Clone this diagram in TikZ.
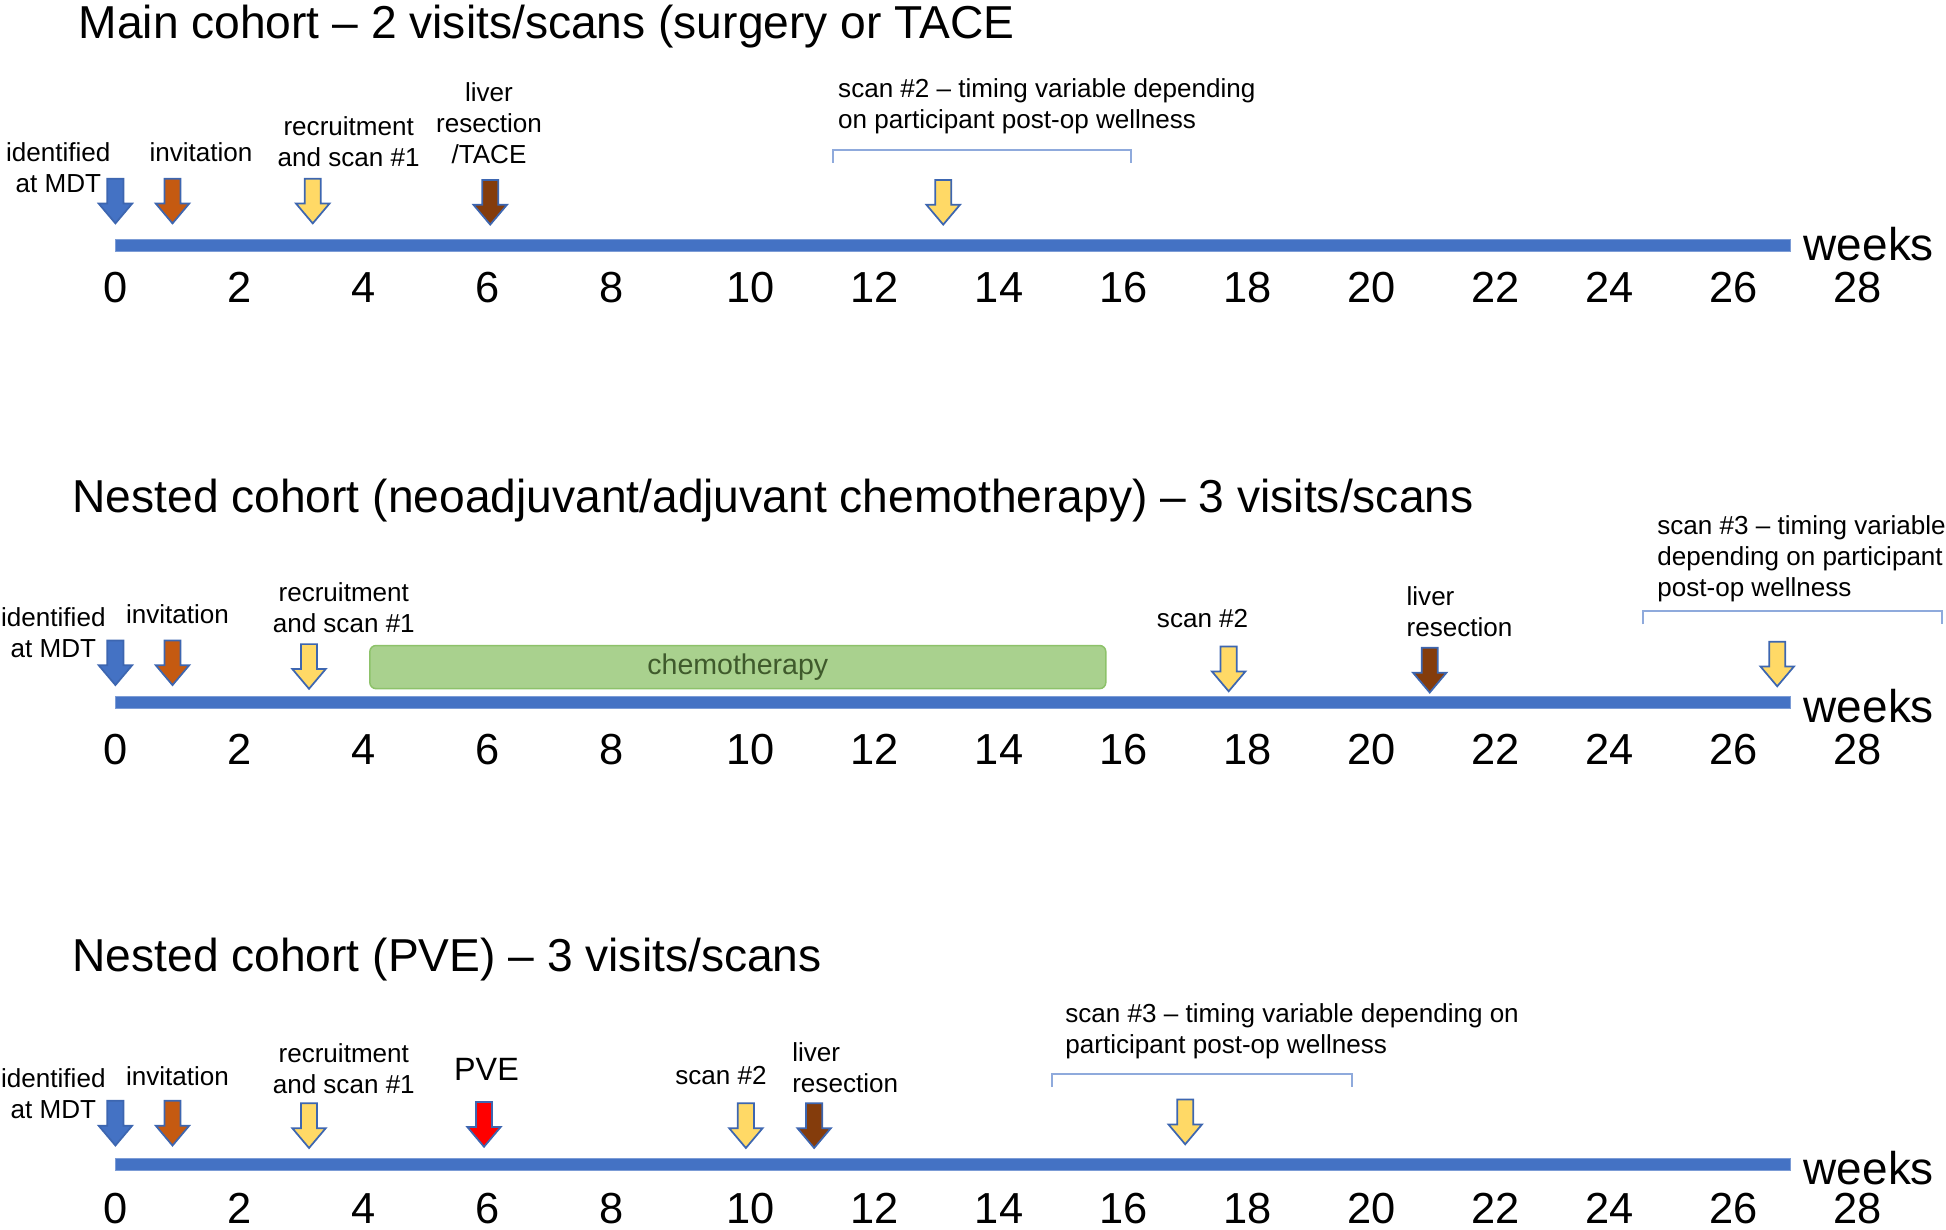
\documentclass[tikz,border=0pt]{standalone}
\usepackage{fontspec}
\setmainfont{Liberation Sans}
\usetikzlibrary{positioning}
\definecolor{barblue}{HTML}{4472C4}
\definecolor{edgeblue}{HTML}{3D66B0}
\definecolor{spanblue}{HTML}{8FAADC}
\definecolor{mdtblue}{HTML}{4472C4}
\definecolor{invorange}{HTML}{C55A11}
\definecolor{scanyellow}{HTML}{FFD966}
\definecolor{resbrown}{HTML}{843C0C}
\definecolor{pvered}{HTML}{FF0000}
\definecolor{chemogreen}{HTML}{A9D18E}
\definecolor{chemoedge}{HTML}{8DC26A}
\definecolor{chemotext}{HTML}{3F5A2C}

\begin{document}
\begin{tikzpicture}[x=0.5pt, y=-0.5pt,
  title/.style={font=\fontsize{18.6}{22}\selectfont, anchor=base west, inner sep=0pt},
  num/.style={font=\fontsize{17.5}{21}\selectfont, anchor=base, inner sep=0pt},
  unit/.style={font=\fontsize{18.5}{22}\selectfont, anchor=base west, inner sep=0pt},
  lab/.style={font=\fontsize{10.5}{12.5}\selectfont, align=center, inner sep=0pt},
  note/.style={lab, align=left, anchor=west},
  bar/.style={fill=barblue, draw=barblue!70!white, line width=0.4pt},
  evt/.style={draw=edgeblue, line width=0.7pt, line join=miter},
  span/.style={draw=spanblue, line width=0.8pt},
  chemo/.style={fill=chemogreen, draw=chemoedge, line width=0.6pt, rounded corners=2.5pt,
                minimum width=296.5pt, minimum height=15.5pt, text=chemotext,
                font=\fontsize{11.5}{13}\selectfont}]
\useasboundingbox (0,0) rectangle (1568,991);

% titles
\node[title] (ttlA) at (63,31) {Main cohort -- 2 visits/scans (surgery or TACE};
\node[title] (ttlB) at (58,413) {Nested cohort (neoadjuvant/adjuvant chemotherapy) -- 3 visits/scans};
\node[title] (ttlC) at (58,783) {Nested cohort (PVE) -- 3 visits/scans};

% time axes
\foreach \p/\by/\ty/\wy in {a/198/244/210, b/566/616/582, c/938/986/954} {
  \draw[bar] (93,\by-4.75) rectangle (1443,\by+4.75);
  \foreach \w/\x in {0/93, 2/193, 4/293, 6/393, 8/493, 10/605, 12/705, 14/805,
                     16/905, 18/1005, 20/1105, 22/1205, 24/1297, 26/1397, 28/1497}
    \node[num] (\p\w) at (\x,\ty) {\w};
  \node[unit] (wk\p) at (1453,\wy) {weeks};
}

% event arrows
\foreach \x/\y/\c in {93/144/mdtblue, 139/144/invorange, 252/144/scanyellow,
                      395/145/resbrown, 760/145/scanyellow,
                      93/516/mdtblue, 139/516/invorange, 249/519/scanyellow,
                      990/521/scanyellow, 1152/522/resbrown, 1432/517/scanyellow,
                      93/887/mdtblue, 139/887/invorange, 249/889/scanyellow,
                      390/888/pvered, 601/889/scanyellow, 656/889/resbrown,
                      955/886/scanyellow}
  \draw[evt, fill=\c] (\x,\y) ++(-6.5,0) -- ++(13,0) -- ++(0,20) -- ++(7,0)
    -- ++(-13.5,16) -- ++(-13.5,-16) -- ++(7,0) -- cycle;

% main cohort labels
\node[lab] (mdtA) at (47,135) {identified\\at MDT};
\node[lab] (invA) at (162,123) {invitation};
\node[lab] (recA) at (281,114) {recruitment\\and scan \#1};
\node[lab] (resA) at (394,99) {liver\\resection\\/TACE};
\node[note] (scnA) at (675,86) {scan \#2 -- timing variable depending\\on participant post-op wellness};
\draw[span] (671,131) -- (671,121) -- (911,121) -- (911,131);

% chemotherapy cohort labels
\node[lab] (mdtB) at (43,510) {identified\\at MDT};
\node[lab] (invB) at (143,495) {invitation};
\node[lab] (recB) at (277,490) {recruitment\\and scan \#1};
\node[chemo] (chemo) at (594.5,537.5) {chemotherapy};
\node[lab] (scnB) at (969,498) {scan \#2};
\node[note] (resB) at (1133,493) {liver\\resection};
\node[note] (lateB) at (1335,450) {scan \#3 -- timing variable\\depending on participant\\post-op wellness};
\draw[span] (1324,503) -- (1324,492) -- (1565,492) -- (1565,503);

% PVE cohort labels
\node[lab] (mdtC) at (43,881) {identified\\at MDT};
\node[lab] (invC) at (143,867) {invitation};
\node[lab] (recC) at (277,861) {recruitment\\and scan \#1};
\node[lab, font=\fontsize{13}{15}\selectfont] (pve) at (392,862) {PVE};
\node[lab] (scnC) at (581,867) {scan \#2};
\node[note] (resC) at (638,860) {liver\\resection};
\node[note] (lateC) at (858,831) {scan \#3 -- timing variable depending on\\participant post-op wellness};
\draw[span] (848,876) -- (848,865) -- (1089,865) -- (1089,876);
\end{tikzpicture}
\end{document}
